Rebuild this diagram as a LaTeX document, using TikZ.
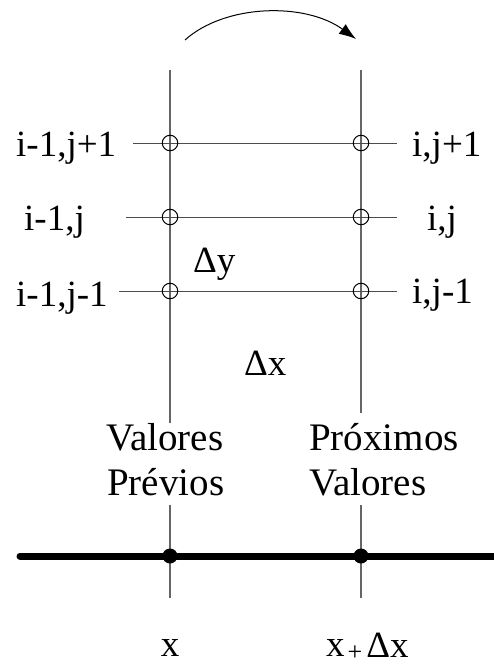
\documentclass[tikz,border=0pt]{standalone}
\usepackage{fontspec}
\setmainfont{Liberation Serif}
\usetikzlibrary{arrows.meta}
\begin{document}
\begin{tikzpicture}[x=1pt,y=1pt,
  lbl/.style={inner sep=0pt,anchor=base west,font=\fontsize{37}{37}\selectfont},
  biglbl/.style={lbl,font=\fontsize{39}{39}\selectfont},
  vline/.style={draw=black!60,line width=1.4pt},
  hline/.style={draw=black!70,line width=1pt},
  gridpt/.style={circle,draw=black,line width=1pt,minimum size=15.5pt,inner sep=0pt},
  dot/.style={circle,fill=black,minimum size=15pt,inner sep=0pt},
  axis/.style={draw=black,line width=7pt,line cap=round}]
\useasboundingbox (0,0) rectangle (494,-666);
% vertical lines
\coordinate (LT) at (170,-70);  \coordinate (LG1) at (170,-423);
\coordinate (LG2) at (170,-505); \coordinate (LB) at (170,-598);
\coordinate (RT) at (361,-70);  \coordinate (RG1) at (361,-413);
\coordinate (RG2) at (361,-505); \coordinate (RB) at (361,-598);
\draw[vline] (LT) -- (LG1) (LG2) -- (LB);
\draw[vline] (RT) -- (RG1) (RG2) -- (RB);
% horizontal lines
\coordinate (h1a) at (133,-143); \coordinate (h1b) at (397,-143);
\coordinate (h2a) at (126,-217); \coordinate (h2b) at (397,-217);
\coordinate (h3a) at (119,-291); \coordinate (h3b) at (397,-291);
\draw[hline] (h1a) -- (h1b);
\draw[hline] (h2a) -- (h2b);
\draw[hline] (h3a) -- (h3b);
% grid points
\node[gridpt] (p11) at (170,-143) {};
\node[gridpt] (p12) at (361,-143) {};
\node[gridpt] (p21) at (170,-217) {};
\node[gridpt] (p22) at (361,-217) {};
\node[gridpt] (p31) at (170,-291) {};
\node[gridpt] (p32) at (361,-291) {};
% labels
\node[lbl] (l1) at (16,-157) {i-1,j+1};
\node[lbl] (l2) at (24,-230) {i-1,j};
\node[lbl] (l3) at (16,-306) {i-1,j-1};
\node[lbl] (r1) at (412,-157) {i,j+1};
\node[lbl] (r2) at (427,-230) {i,j};
\node[lbl] (r3) at (412,-303) {i,j-1};
\node[lbl] (dy) at (193,-272) {Δy};
\node[lbl] (dx) at (244,-375) {Δx};
\node[biglbl] (v1) at (106,-450) {Valores};
\node[biglbl] (v2) at (107,-495) {Prévios};
\node[biglbl] (p1) at (309,-450) {Próximos};
\node[biglbl] (p2) at (309,-495) {Valores};
% axis
\coordinate (A0) at (20,-556); \coordinate (A1) at (500,-556);
\draw[axis] (A0) -- (A1);
\node[dot] (d1) at (170,-556) {};
\node[dot] (d2) at (361,-556) {};
\node[lbl,anchor=base] (x0) at (170,-656) {x};
\node[lbl] (x1) at (326,-656) {x\hspace{3pt}\raisebox{-4pt}{\fontsize{26}{26}\selectfont+}\hspace{4pt}\raisebox{-1pt}{Δx}};
% arrow
\coordinate (a0) at (185,-40); \coordinate (a1) at (356,-39);
\draw[line width=1pt,-{Latex[length=17pt,width=12pt]}] (a0) .. controls (225,-4) and (305,-2) .. (a1);
\end{tikzpicture}
\end{document}
